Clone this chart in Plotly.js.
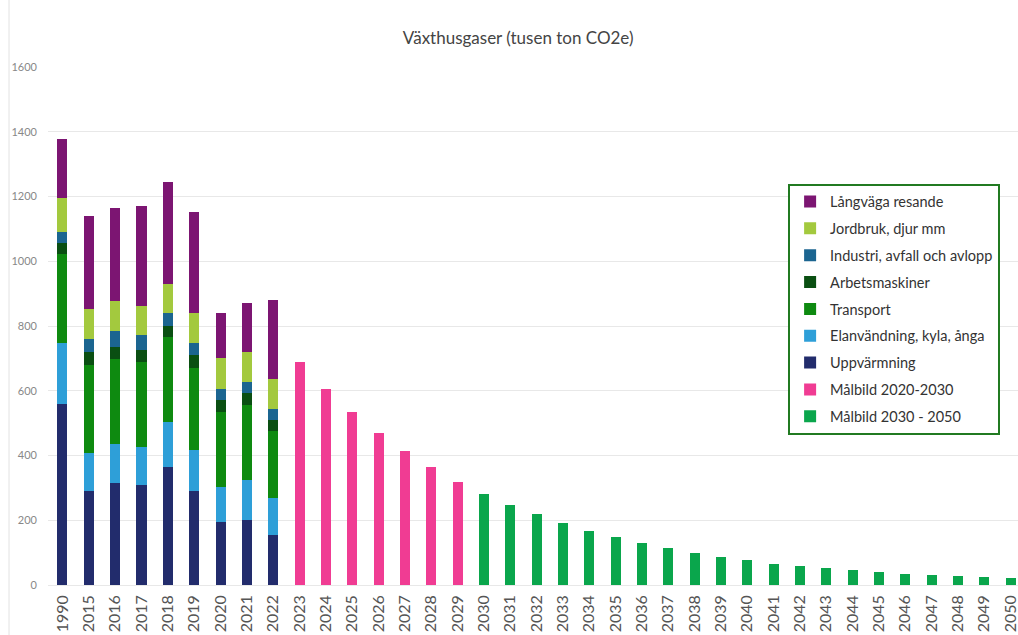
<!DOCTYPE html>
<html>
<head>
<meta charset="utf-8">
<script src="https://cdn.plot.ly/plotly-3.0.1.min.js"></script>
<style>html,body{margin:0;padding:0;overflow:hidden;background:#fff}</style>
</head>
<body>
<div id="chart" style="width:1018px;height:635px"></div>
<script>
// Historical years (stacked sectors)
const yearsHist = ['1990','2015','2016','2017','2018','2019','2020','2021','2022'];
const uppvarmning   = [560, 290, 316, 308, 363, 290, 196, 201, 153];
const elanvandning  = [188, 117, 120, 118, 139, 128, 106, 122, 115];
const transport     = [273, 274, 263, 262, 264, 253, 232, 232, 209];
const arbetsmaskiner= [ 35,  38,  36,  39,  33,  38,  38,  38,  34];
const industri      = [ 34,  41,  49,  44,  41,  39,  34,  34,  33];
const jordbruk      = [106,  93,  92,  92,  90,  92,  96,  92,  93];
const langvaga      = [182, 287, 289, 308, 314, 312, 138, 151, 244];

// Target paths
const yearsMal1 = ['2023','2024','2025','2026','2027','2028','2029'];
const malbild1  = [690, 606, 534, 469, 413, 363, 319];
const yearsMal2 = ['2030','2031','2032','2033','2034','2035','2036','2037','2038','2039','2040',
                   '2041','2042','2043','2044','2045','2046','2047','2048','2049','2050'];
const malbild2  = [282, 248, 218, 192, 168, 148, 130, 114, 100, 87, 77,
                   66, 59, 52, 46, 40, 35, 30, 27, 24, 21];

const allYears = yearsHist.concat(yearsMal1, yearsMal2);

function bar(name, x, y, color, rank) {
  return {type:'bar', name:name, x:x, y:y, marker:{color:color, line:{width:0}},
          legendgroup:'g'+rank, legendrank:rank, hoverinfo:'x+y+name'};
}

const data = [
  bar('Uppvärmning', yearsHist, uppvarmning, '#222c6c', 7),
  bar('Elanvändning, kyla, ånga', yearsHist, elanvandning, '#2e9fd8', 6),
  bar('Transport', yearsHist, transport, '#0e8a10', 5),
  bar('Arbetsmaskiner', yearsHist, arbetsmaskiner, '#0a4f12', 4),
  bar('Industri, avfall och avlopp', yearsHist, industri, '#1b6590', 3),
  bar('Jordbruk, djur mm', yearsHist, jordbruk, '#a3c93e', 2),
  bar('Långväga resande', yearsHist, langvaga, '#7c1572', 1),
  bar('Målbild 2020-2030', yearsMal1, malbild1, '#f03c93', 8),
  bar('Målbild 2030 - 2050', yearsMal2, malbild2, '#0aa64c', 9)
];

const layout = {
  width:1018, height:635,
  margin:{l:48, r:0, t:67, b:50, pad:0},
  paper_bgcolor:'#ffffff', plot_bgcolor:'#ffffff',
  font:{family:'Lato, "Open Sans", sans-serif', color:'#444'},
  title:{text:'Växthusgaser (tusen ton CO2e)', font:{family:'Lato, sans-serif', size:17, color:'#444'},
         x:0.509, xref:'container', xanchor:'center', y:0.94, yref:'container', yanchor:'middle'},
  barmode:'stack',
  bargap:0.62,
  showlegend:true,
  legend:{x:0.763, xanchor:'left', y:0.775, yanchor:'top', bgcolor:'#ffffff',
          bordercolor:'#217a21', borderwidth:2, traceorder:'grouped', tracegroupgap:5,
          font:{family:'Lato, sans-serif', size:14.5, color:'#333'}, itemwidth:30},
  xaxis:{type:'category', categoryorder:'array', categoryarray:allYears,
         range:[-0.55, 36.28], tickangle:-90, showgrid:false, showline:false, ticks:'',
         automargin:false, ticklabelstandoff:6,
         tickfont:{family:'Lato, sans-serif', size:16, color:'#555'}},
  yaxis:{range:[0,1600], dtick:200, showgrid:true, gridcolor:'#e8e8e8', gridwidth:1,
         zeroline:true, zerolinecolor:'#e8e8e8', zerolinewidth:1, showline:false, ticks:'',
         automargin:false, ticklabelstandoff:10,
         tickfont:{family:'Lato, sans-serif', size:11, color:'#888'}},
  shapes:[{type:'line', xref:'paper', yref:'paper', x0:-0.0402, x1:-0.0402, y0:-0.1, y1:1.13,
           line:{color:'#e2e2e2', width:1}, layer:'below'}]
};

Plotly.newPlot('chart', data, layout, {displayModeBar:false, staticPlot:true});
</script>
</body>
</html>
